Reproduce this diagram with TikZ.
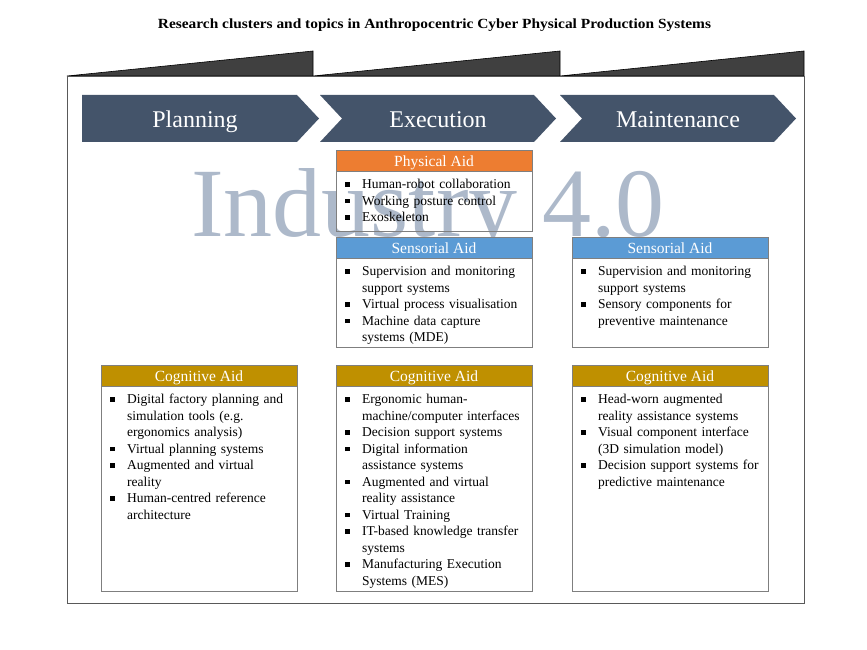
\documentclass[tikz,border=0pt]{standalone}
\usepackage{fontspec}
\setmainfont{Liberation Serif}
\definecolor{arrowblue}{HTML}{44546A}
\definecolor{tabgray}{HTML}{404040}
\definecolor{framegray}{HTML}{595959}
\definecolor{boxgray}{HTML}{7F7F7F}
\definecolor{physorange}{HTML}{ED7D31}
\definecolor{sensblue}{HTML}{5B9BD5}
\definecolor{cogngold}{HTML}{BF9000}
\definecolor{watermark}{HTML}{ADB9CA}
\newcommand{\itm}[1]{\par\hangindent=17pt\hangafter=1\noindent\makebox[17pt][l]{\rule[1.8pt]{4.5pt}{4.5pt}}\strut#1\par}
\tikzset{
  tabshape/.style={fill=tabgray, draw=black, line width=0.6pt},
  phase/.style={fill=arrowblue, draw=none},
  phasetext/.style={anchor=base, text=white, font=\fontsize{24}{28}\selectfont, inner sep=0pt},
  hdr/.style={draw=boxgray, line width=0.8pt},
  hdrtext/.style={anchor=base, text=white, font=\fontsize{15.5}{18}\selectfont, inner sep=0pt},
  boxbody/.style={draw=boxgray, line width=0.8pt},
  itemlist/.style={anchor=north west, inner sep=0pt, text width=190pt, align=left,
     font=\fontsize{13.5}{16.5}\selectfont},
}
\begin{document}
\begin{tikzpicture}[x=1pt,y=-1pt]
\useasboundingbox (0,0) rectangle (867,650);
% title
\node[anchor=base, xscale=1.1, font=\bfseries\fontsize{14}{16}\selectfont, inner sep=0pt] (title) at (434.5,29)
  {Research clusters and topics in Anthropocentric Cyber Physical Production Systems};
% frame and tabs
\draw[tabshape] (67,76) -- (313,51) -- (313,76) -- cycle;
\draw[tabshape] (313,76) -- (560,51) -- (560,76) -- cycle;
\draw[tabshape] (560,76) -- (804,51) -- (804,76) -- cycle;
\draw[draw=framegray, line width=0.8pt] (67,76) rectangle (804,603);
% phase arrows
\fill[phase] (82,95) -- (297,95) -- (319,118.5) -- (297,142) -- (82,142) -- cycle;
\fill[phase] (320,95) -- (534,95) -- (556,118.5) -- (534,142) -- (320,142) -- (342,118.5) -- cycle;
\fill[phase] (560,95) -- (774,95) -- (796,118.5) -- (774,142) -- (560,142) -- (582,118.5) -- cycle;
\node[phasetext] (planning) at (195,127.5) {Planning};
\node[phasetext] (execution) at (438,127.5) {Execution};
\node[phasetext] (maintenance) at (678,127.5) {Maintenance};
% watermark
\node[anchor=base, inner sep=0pt, text=watermark, font=\fontsize{98}{100}\selectfont] (wm) at (428,236) {Industry 4.0};
% Physical aid
\draw[boxbody] (336,171) rectangle (532,231);
\draw[hdr, fill=physorange] (336,150) rectangle (532,171);
\node[hdrtext] (phys) at (434,166) {Physical Aid};
\node[itemlist] (physlist) at (345,171.8) {\itm{Human-robot collaboration}\itm{Working posture control}\itm{Exoskeleton}};
% Sensorial exec
\draw[boxbody] (336,258) rectangle (532,347);
\draw[hdr, fill=sensblue] (336,237) rectangle (532,258);
\node[hdrtext] (sens1) at (434,253) {Sensorial Aid};
\node[itemlist] (sens1list) at (345,258.8) {\itm{Supervision and monitoring\newline support systems}\itm{Virtual process visualisation}\itm{Machine data capture\newline systems (MDE)}};
% Sensorial maint
\draw[boxbody] (572,258) rectangle (768,347);
\draw[hdr, fill=sensblue] (572,237) rectangle (768,258);
\node[hdrtext] (sens2) at (670,253) {Sensorial Aid};
\node[itemlist] (sens2list) at (581,258.8) {\itm{Supervision and monitoring\newline support systems}\itm{Sensory components for\newline preventive maintenance}};
% Cognitive plan
\draw[boxbody] (101,386) rectangle (297,591);
\draw[hdr, fill=cogngold] (101,365) rectangle (297,386);
\node[hdrtext] (cog1) at (199,381) {Cognitive Aid};
\node[itemlist] (cog1list) at (110,386.8) {\itm{Digital factory planning and\newline simulation tools (e.g.\newline ergonomics analysis)}\itm{Virtual planning systems}\itm{Augmented and virtual\newline reality}\itm{Human-centred reference\newline architecture}};
% Cognitive exec
\draw[boxbody] (336,386) rectangle (532,591);
\draw[hdr, fill=cogngold] (336,365) rectangle (532,386);
\node[hdrtext] (cog2) at (434,381) {Cognitive Aid};
\node[itemlist] (cog2list) at (345,386.8) {\itm{Ergonomic human-\newline machine/computer interfaces}\itm{Decision support systems}\itm{Digital information\newline assistance systems}\itm{Augmented and virtual\newline reality assistance}\itm{Virtual Training}\itm{IT-based knowledge transfer\newline systems}\itm{Manufacturing Execution\newline Systems (MES)}};
% Cognitive maint
\draw[boxbody] (572,386) rectangle (768,591);
\draw[hdr, fill=cogngold] (572,365) rectangle (768,386);
\node[hdrtext] (cog3) at (670,381) {Cognitive Aid};
\node[itemlist] (cog3list) at (581,386.8) {\itm{Head-worn augmented\newline reality assistance systems}\itm{Visual component interface\newline (3D simulation model)}\itm{Decision support systems for\newline predictive maintenance}};
\end{tikzpicture}
\end{document}
